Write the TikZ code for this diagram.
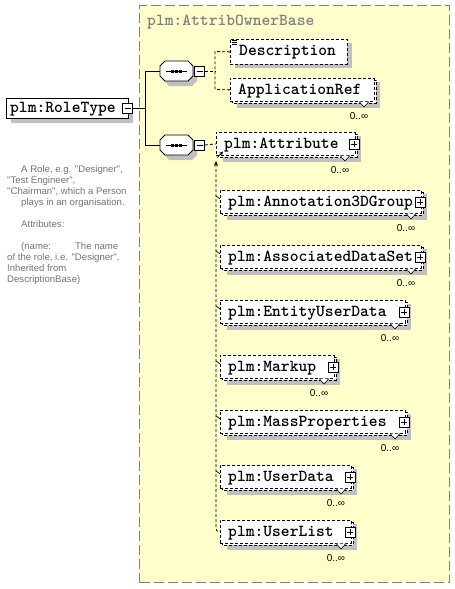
\documentclass[tikz,border=0pt]{standalone}
\usepackage{fontspec}
\newfontfamily\cmtfont{Liberation Sans}
\usetikzlibrary{arrows.meta,calc,shapes.misc,shadows}
\definecolor{ybg}{RGB}{255,255,204}
\definecolor{shad}{RGB}{192,192,192}
\definecolor{bgray}{RGB}{128,128,128}
\tikzset{
  ename/.style={font=\fontsize{16.76}{18}\selectfont\ttfamily\bfseries, inner sep=0, anchor=base west},
  dbox/.style={draw, dash pattern=on 3pt off 2pt, fill=white, line width=0.8pt},
  ebox/.style={dbox, inner sep=0, anchor=north west},
  conn/.style={dash pattern=on 3pt off 2pt, line width=0.8pt},
  solidc/.style={line width=0.9pt},
  mult/.style={font=\cmtfont\fontsize{10}{11}\selectfont, inner sep=0},
  sqbox/.style={draw, fill=white, minimum size=10pt, inner sep=0, line width=0.8pt},
  seqn/.style={rectangle, minimum width=33pt, minimum height=20pt, inner sep=0},
}
% plus box: name, x, y
\newcommand\plusbox[3]{%
  \node[sqbox] (#1) at (#2,#3) {};
  \draw[line width=0.8pt] ($(#1.center)+(-3,0)$) -- ($(#1.center)+(3,0)$)
    ($(#1.center)+(0,-3)$) -- ($(#1.center)+(0,3)$);
}
\newcommand\minusbox[3]{%
  \node[sqbox] (#1) at (#2,#3) {};
  \draw[line width=0.8pt] ($(#1.center)+(-3,0)$) -- ($(#1.center)+(3,0)$);
}
% sequence compositor: name, yc
\newcommand\seqbox[2]{%
  \fill[shad] (164,{#2}) -- (169,{#2-5}) -- (192,{#2-5}) -- (197,{#2}) -- (197,{#2+10}) -- (192,{#2+15}) -- (169,{#2+15}) -- (164,{#2+10}) -- cycle;
  \node[seqn] (#1) at (176.5,#2) {};
  \draw[line width=0.9pt, fill=white] (160,{#2-5}) -- (165,{#2-10}) -- (188,{#2-10}) -- (193,{#2-5})
    -- (193,{#2+5}) -- (188,{#2+10}) -- (165,{#2+10}) -- (160,{#2+5}) -- cycle;
  \draw[line width=0.9pt] (166,#2) -- (187,#2);
  \foreach \d in {172.5,176.5,180.5} \fill ({\d-1.5},{#2-1.5}) rectangle ({\d+1.5},{#2+1.5});
}
% multi element: name, x1, x2, yc, text, plus(1/0)
\newcommand\melem[6]{%
  \fill[shad] ({#2+7},{#4-8}) rectangle ({#3+6},{#4+18});
  \draw[dbox] ({#2+2},{#4-10}) rectangle ({#3+2},{#4+13});
  \node[ebox, minimum width={#3-#2}, minimum height=23pt] (#1) at (#2,{#4-12}) {};
  \node[ename] (#1t) at ({#2+8},{#4+4}) {#5};
  \filldraw[fill=white, line width=0.6pt] ({#3-15},{#4+11.5}) -- ({#3-10},{#4+17}) -- ({#3-5},{#4+11.5});
  \node[mult] (#1m) at ({#3-15},{#4+26}) {0..∞};
  \ifnum#6=1 \plusbox{#1p}{#3-1}{#4}\fi
}
\begin{document}
\begin{tikzpicture}[x=1pt,y=-1pt]
\useasboundingbox (0,0) rectangle (455,589);
\fill[white] (0,0) rectangle (455,589);
% base type box
\node[draw=bgray, line width=1.3pt, dash pattern=on 10pt off 4pt, fill=ybg,
  minimum width=310pt, minimum height=577pt, inner sep=0, anchor=north west] (base) at (139,5) {};
\node[ename, text=bgray] (ttl) at (147,25) {plm:AttribOwnerBase};

% RoleType
\node[chamfered rectangle, chamfered rectangle corners={north west,south west},
  chamfered rectangle xsep=4pt, chamfered rectangle ysep=4pt,
  draw, fill=white, line width=0.9pt, minimum width=122pt, minimum height=20pt, inner sep=0,
  anchor=north west, drop shadow={shadow xshift=5pt, shadow yshift=-5pt, fill=shad, opacity=1}]
  (rt) at (6,98) {};
\node[ename] (rtt) at (10,112.5) {plm:RoleType};
\minusbox{rtm}{127.5}{108}

% comment
\node[font=\cmtfont\fontsize{9.6}{11}\selectfont, text=bgray!90!black, inner sep=0, anchor=north west,
  align=left] (cmt) at (7,165) {%
\hspace*{14pt}A Role, e.g. "Designer",\\
"Test Engineer",\\
"Chairman", which a Person\\
\hspace*{14pt}plays in an organisation.\\[11pt]
\hspace*{14pt}Attributes:\\[11pt]
\hspace*{14pt}(name:\hspace{24pt}The name\\
of the role, i.e. "Designer".\\
Inherited from\\
DescriptionBase)};

% sequences
\seqbox{s1}{71}
\seqbox{s2}{145}
\minusbox{s1m}{199.5}{71}
\minusbox{s2m}{199.5}{145}

\coordinate (j0) at (145,108);
\draw[solidc] (rtm.east) -- (j0);
\draw[solidc] (s1.west) -- (145,71) -- (145,145) -- (s2.west);

% Description
\node[ebox, minimum width=117pt, minimum height=25pt,
  drop shadow={shadow xshift=5pt, shadow yshift=-4pt, fill=shad, opacity=1}] (desc) at (230,39) {};
\node[ename] (desct) at (239,55) {Description};
\foreach \yy in {40,42,44} \draw[line width=0.6pt] (232,\yy) -- (237,\yy);
% ApplicationRef
\melem{appref}{230}{374}{90}{ApplicationRef}{0}

\draw[conn] (s1m.east) -- (215,71);
\draw[conn] (desc.west) -- (215,51.5) -- (215,89.5) -- (appref.west);

% children of second sequence
\melem{attr}{216}{355}{144}{plm:Attribute}{1}
\melem{a3d}{220}{421}{202}{plm:Annotation3DGroup}{1}
\melem{ads}{220}{421}{257}{plm:AssociatedDataSet}{1}
\melem{eud}{220}{405}{312}{plm:EntityUserData}{1}
\melem{mk}{220}{334}{367}{plm:Markup}{1}
\melem{mp}{220}{405}{422}{plm:MassProperties}{1}
\melem{ud}{220}{351}{477}{plm:UserData}{1}
\melem{ul}{220}{351}{532}{plm:UserList}{1}

\draw[conn] (s2m.east) -- (attr.west);
\draw[conn, rounded corners=3pt, {Stealth[length=5pt,width=4pt]}-] (216,161) -- (216,531.5) -- (ul.west);
\draw[line width=0.8pt, -{Stealth[length=4pt,width=4pt]}] (217.5,157.5) -- (223,151.5);
\foreach \n in {a3d,ads,eud,mk,mp,ud}
  \draw[line width=0.7pt] ($(\n.west)+(-4,-6)$) -- ($(\n.west)+(0,-3)$);
\end{tikzpicture}
\end{document}
